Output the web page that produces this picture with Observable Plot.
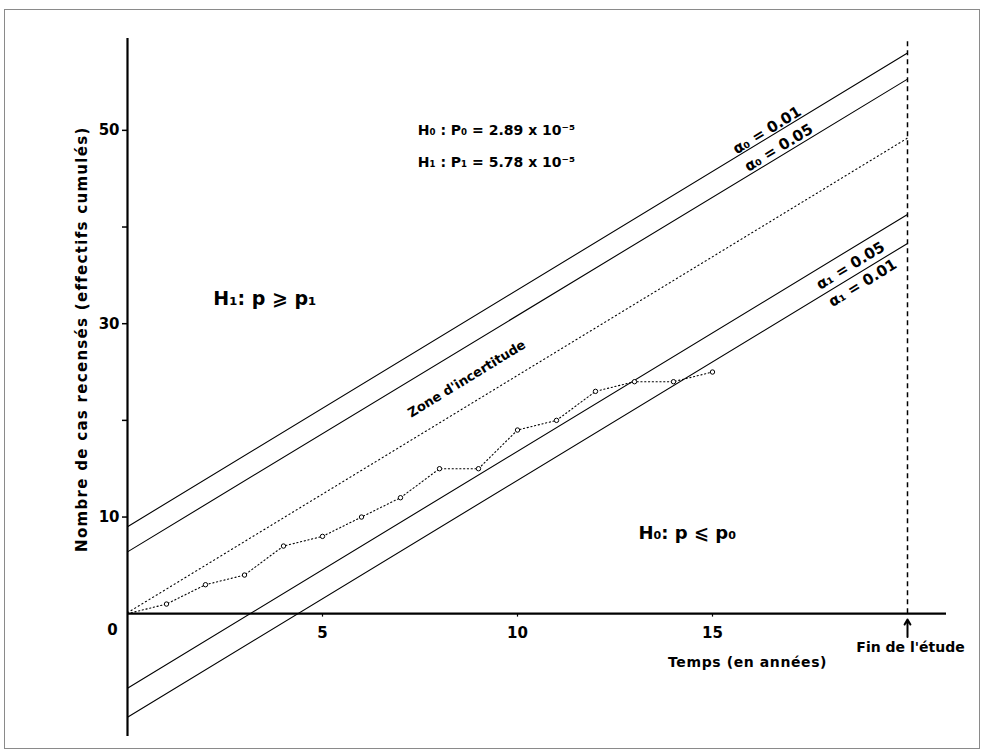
<!DOCTYPE html>
<html><head><meta charset="utf-8">
<script src="https://cdn.jsdelivr.net/npm/d3@7"></script>
<script src="https://cdn.jsdelivr.net/npm/@observablehq/plot@0.6"></script>
<style>
html,body{margin:0;padding:0;background:#fff;}
#chart{position:absolute;left:0;top:0;}
#frame{position:absolute;left:4px;top:9px;width:976px;height:740px;border:1.5px solid #8a8a8a;box-sizing:border-box;pointer-events:none;}
</style></head><body>
<div id="chart"></div><div id="frame"></div>
<script>
// Observed cumulative cases per year
const years = [0, 1, 2, 3, 4, 5, 6, 7, 8, 9, 10, 11, 12, 13, 14, 15];
const cases = [0, 1, 3, 4, 7, 8, 10, 12, 15, 15, 19, 20, 23, 24, 24, 25];

// Decision boundaries (value at year 0 and year 20)
const boundaryNames = ["α₀ = 0.01", "α₀ = 0.05", "α₁ = 0.05", "α₁ = 0.01"];
const boundaryAtStart = [9.0, 6.4, -7.7, -10.7];
const boundaryAtEnd = [58.0, 55.3, 41.3, 38.3];
const midlineAtStart = 0.1;
const midlineAtEnd = 49.2;
const lineYears = [0, 20];

const yTicks = [10, 20, 30, 40, 50];
const yTickLabels = ["10", "", "30", "", "50"];
const xTicks = [5, 10, 15];
const studyEnd = 20;

const yTitle = "Nombre de cas recensés (effectifs cumulés)";
const xTitle = "Temps (en années)";

const obs = years.map((y, i) => ({year: y, cases: cases[i]}));
const boundaries = boundaryNames.flatMap((name, i) =>
  lineYears.map((yr, j) => ({name, year: yr, value: j ? boundaryAtEnd[i] : boundaryAtStart[i]})));
const midline = lineYears.map((yr, j) => ({year: yr, value: j ? midlineAtEnd : midlineAtStart}));

const bold = {fontWeight: "bold", fill: "black"};

const chart = Plot.plot({
  width: 983, height: 754,
  marginLeft: 127, marginRight: 37, marginTop: 38, marginBottom: 18,
  x: {domain: [0, 21], axis: null},
  y: {domain: [-12.7, 59.5]},
  style: {fontFamily: "DejaVu Sans", background: "white", color: "black"},
  marks: [
    Plot.axisY(yTicks, {tickSize: 5, tickPadding: 3, label: null,
      tickFormat: d => yTickLabels[yTicks.indexOf(d)], fontSize: 15, fontWeight: "bold", strokeWidth: 1.5}),
    Plot.ruleY([0], {x1: 0, x2: 21, strokeWidth: 2.2}),
    Plot.ruleX([0], {y1: -12.7, y2: 59.5, strokeWidth: 2.2}),
    Plot.ruleX(xTicks, {x: d => d, y1: 0, y2: -0.35, strokeWidth: 1.2}),
    Plot.text(xTicks, {x: d => d, y: 0, dy: 19, text: d => String(d), fontSize: 15, ...bold}),
    Plot.text(["0"], {x: 0, y: 0, dx: -15, dy: 16, fontSize: 15, ...bold}),
    Plot.line(boundaries, {x: "year", y: "value", z: "name", stroke: "black", strokeWidth: 1.1}),
    Plot.line(midline, {x: "year", y: "value", stroke: "black", strokeWidth: 1.1, strokeDasharray: "1.2,3"}),
    Plot.line(obs, {x: "year", y: "cases", stroke: "black", strokeWidth: 1.1, strokeDasharray: "1.2,2.6"}),
    Plot.dot(obs.slice(1), {x: "year", y: "cases", r: 2.2, stroke: "black", fill: "white", strokeWidth: 1}),
    Plot.ruleX([studyEnd], {x: d => d, y1: 0, y2: 59.5, strokeWidth: 1.5, strokeDasharray: "5,4"}),
    Plot.arrow([studyEnd], {x1: d => d, x2: d => d, y1: -2.4, y2: -0.6, strokeWidth: 2, headLength: 7, stroke: "black"}),
    Plot.text(["Fin de l'étude"], {x: studyEnd, y: 0, dx: 3, dy: 34, fontSize: 14, ...bold}),
    Plot.text([xTitle], {x: 15.9, y: 0, dy: 49, fontSize: 14, ...bold}),
    Plot.text([yTitle], {x: 0, y: 28.4, dx: -45, rotate: -90, textAnchor: "middle", fontSize: 15, ...bold}),
    Plot.text(["H₀ : P₀ = 2.89 x 10⁻⁵"], {x: 7.44, y: 50.0, textAnchor: "start", fontSize: 14, ...bold}),
    Plot.text(["H₁ : P₁ = 5.78 x 10⁻⁵"], {x: 7.44, y: 46.7, textAnchor: "start", fontSize: 14, ...bold}),
    Plot.text(["H₁: p ⩾ p₁"], {x: 2.2, y: 32.6, textAnchor: "start", fontSize: 19, ...bold}),
    Plot.text(["H₀: p ⩽ p₀"], {x: 13.1, y: 8.3, textAnchor: "start", fontSize: 18, ...bold}),
    Plot.text(["Zone d'incertitude"], {x: 8.7, y: 24.3, rotate: -31.5, fontSize: 13, ...bold}),
    Plot.text([boundaryNames[0]], {x: 16.4, y: 50.0, rotate: -31.5, fontSize: 15, ...bold}),
    Plot.text([boundaryNames[1]], {x: 16.7, y: 48.2, rotate: -31.5, fontSize: 15, ...bold}),
    Plot.text([boundaryNames[2]], {x: 18.54, y: 36.0, rotate: -31.5, fontSize: 15, ...bold}),
    Plot.text([boundaryNames[3]], {x: 18.85, y: 34.2, rotate: -31.5, fontSize: 15, ...bold})
  ]
});
d3.select(chart).selectAll("text")
  .filter(function () { return this.textContent === yTitle; })
  .style("letter-spacing", "1.3px");
d3.select(chart).selectAll("text")
  .filter(function () { return this.textContent === xTitle; })
  .style("letter-spacing", "0.6px");
document.getElementById("chart").appendChild(chart);
</script></body></html>
